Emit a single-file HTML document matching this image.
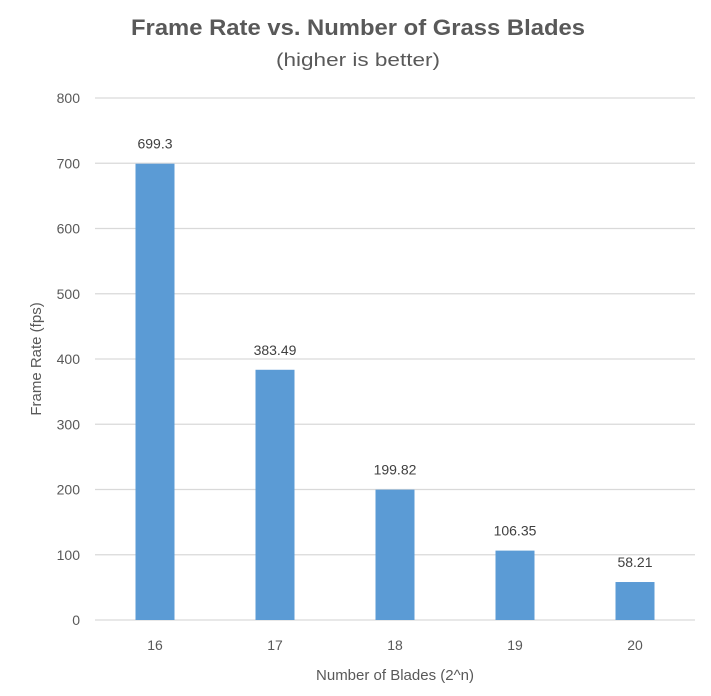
<!DOCTYPE html>
<html><head><meta charset="utf-8"><style>
body{margin:0;background:#fff}
svg{display:block;font-family:"Liberation Sans",sans-serif}
</style></head><body>
<svg id="chart" width="711" height="696">
<text x="358" y="35" text-anchor="middle" font-size="22" font-weight="bold" fill="#595959" textLength="454" lengthAdjust="spacingAndGlyphs">Frame Rate vs. Number of Grass Blades</text>
<text x="358" y="66" text-anchor="middle" font-size="18" fill="#595959" textLength="164" lengthAdjust="spacingAndGlyphs">(higher is better)</text>
<text transform="translate(41,359) rotate(-90)" text-anchor="middle" font-size="15" fill="#595959">Frame Rate (fps)</text>
<text x="395" y="680" text-anchor="middle" font-size="15" fill="#595959">Number of Blades (2^n)</text>
<g id="grid"></g><g id="bars"></g>
</svg>
<script>
const categories=["16","17","18","19","20"];
const values=[699.3,383.49,199.82,106.35,58.21];
const valueLabels=["699.3","383.49","199.82","106.35","58.21"];
const yTicks=[0,100,200,300,400,500,600,700,800];
const NS="http://www.w3.org/2000/svg";
const x0=95,x1=695,yBase=620,yTop=98;
const y=v=>yBase-(v/800)*(yBase-yTop);
const band=(x1-x0)/categories.length;
const xc=i=>x0+band*(i+0.5);
function mk(t,a,p){const e=document.createElementNS(NS,t);for(const k in a)e.setAttribute(k,a[k]);p.appendChild(e);return e;}
const grid=document.getElementById('grid'),bars=document.getElementById('bars');
yTicks.forEach(v=>{
 const l=mk('line',{x1:x0,x2:x1,y1:y(v),y2:y(v),stroke:'#d9d9d9','stroke-width':1.3},grid);
 
 
 const t=mk('text',{x:80,y:y(v)+5,'text-anchor':'end','font-size':14,fill:'#595959'},grid);
 t.textContent=v;
 
 
});
categories.forEach((c,i)=>{
 const w=39;
 const r=mk('rect',{x:xc(i)-w/2,y:y(values[i]),width:w,height:yBase-y(values[i]),fill:'#5b9bd5'},bars);
 
 
 const t=mk('text',{x:xc(i),y:y(values[i])-15,'text-anchor':'middle','font-size':14,fill:'#404040'},bars);
 t.textContent=valueLabels[i];
 
 
 const xt=mk('text',{x:xc(i),y:650,'text-anchor':'middle','font-size':14,fill:'#595959'},bars);
 xt.textContent=c;
 
 
});
</script>
</body></html>
